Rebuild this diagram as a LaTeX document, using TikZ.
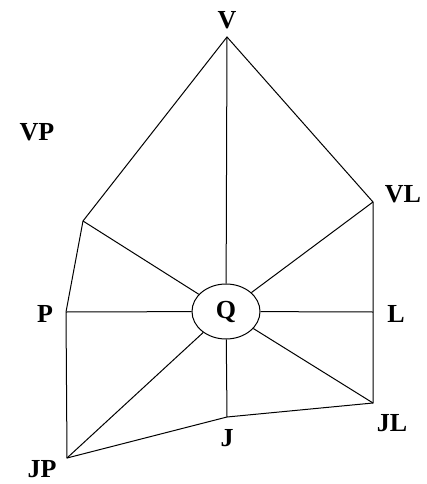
\documentclass[tikz,border=0pt]{standalone}
\usepackage{fontspec}
\setmainfont{Liberation Serif}
\usetikzlibrary{shapes.geometric}
\begin{document}
\begin{tikzpicture}[x=1pt,y=-1pt,
  edge/.style={line width=1pt, draw=black},
  lbl/.style={font=\fontsize{26}{28}\selectfont\bfseries, inner sep=0pt}]
\useasboundingbox (0,0) rectangle (427,484);
% corner points
\coordinate (V) at (227,37);
\coordinate (UL) at (83,221);
\coordinate (VL) at (373,202);
\coordinate (P) at (66,312);
\coordinate (L) at (373,312);
\coordinate (JP) at (67,458);
\coordinate (J) at (227,417);
\coordinate (JL) at (373,403);
% centre
\node[ellipse, edge, lbl, minimum width=68pt, minimum height=55pt] (Q) at (226,311.5) {Q};
% outline
\draw[edge] (V) -- (UL) -- (P) -- (JP) -- (J) -- (JL) -- (L) -- (VL) -- cycle;
% spokes
\foreach \p in {V,UL,VL,P,L,JP,J,JL} \draw[edge] (\p) -- (Q);
% labels
\node[lbl] (lV) at (227,20) {V};
\node[lbl] (lVP) at (37,132) {VP};
\node[lbl] (lVL) at (403,194) {VL};
\node[lbl] (lP) at (45,314) {P};
\node[lbl] (lL) at (396,314) {L};
\node[lbl] (lJ) at (227,438) {J};
\node[lbl] (lJL) at (392,423) {JL};
\node[lbl] (lJP) at (42,469) {JP};
\end{tikzpicture}
\end{document}
